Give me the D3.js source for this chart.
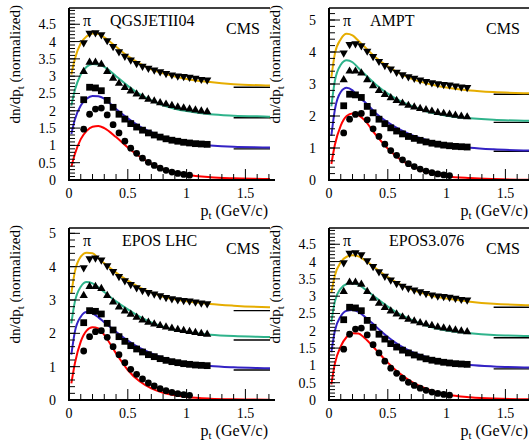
<!DOCTYPE html>
<html><head><meta charset="utf-8">
<script src="https://cdn.jsdelivr.net/npm/d3@7"></script>
<style>body{margin:0;background:#fff}svg{display:block}text{font-family:"Liberation Serif","Times New Roman",serif;fill:#000}</style>
</head><body>
<svg id="c" width="529" height="440" font-family="Liberation Serif, serif"></svg>
<script>
// ---- data ----
const ptBins = [0.125,0.175,0.225,0.275,0.325,0.375,0.425,0.475,0.525,0.575,0.625,0.675,0.725,0.775,0.825,0.875,0.925,0.975,1.025,1.075,1.125,1.175];
const circleVals = [1.47,1.90,2.05,2.08,1.88,1.60,1.36,1.12,0.92,0.77,0.63,0.51,0.42,0.34,0.28,0.23,0.19,0.16,0.14];
const squareVals = [2.32,2.68,2.66,2.58,2.30,2.10,1.90,1.76,1.63,1.53,1.44,1.36,1.30,1.24,1.19,1.15,1.12,1.09,1.07,1.05,1.04,1.03];
const triUpVals = [3.13,3.40,3.40,3.34,3.13,2.94,2.79,2.67,2.57,2.48,2.40,2.33,2.28,2.23,2.19,2.15,2.11,2.08,2.05,2.02,1.99,1.97];
const triDownVals = [3.97,4.24,4.26,4.20,4.03,3.86,3.71,3.58,3.47,3.37,3.29,3.23,3.18,3.13,3.08,3.04,3.01,2.99,2.97,2.94,2.91,2.89];

const curveX = [0.02,0.05,0.1,0.15,0.2,0.25,0.3,0.4,0.5,0.6,0.7,0.8,0.9,1.0,1.2,1.4,1.7,1.8];
// QGSJETII04
const qgsRed    = [0.38,0.75,1.18,1.42,1.54,1.56,1.50,1.24,0.94,0.68,0.47,0.32,0.22,0.15,0.08,0.05,0.03,0.02];
const qgsBlue   = [1.33,1.75,2.15,2.35,2.43,2.42,2.35,2.05,1.78,1.55,1.38,1.24,1.14,1.07,1.00,0.96,0.94,0.93];
const qgsGreen  = [2.15,2.60,3.05,3.27,3.35,3.34,3.27,3.00,2.72,2.48,2.30,2.16,2.06,1.99,1.90,1.86,1.83,1.82];
const qgsYellow = [3.05,3.50,3.95,4.15,4.23,4.22,4.12,3.85,3.58,3.37,3.20,3.08,2.99,2.92,2.83,2.77,2.73,2.72];
// AMPT
const amptRed    = [0.50,1.10,1.70,2.00,2.08,2.03,1.88,1.40,0.98,0.66,0.44,0.29,0.19,0.12,0.06,0.03,0.01,0.01];
const amptBlue   = [1.38,2.20,2.75,2.88,2.80,2.60,2.45,2.08,1.80,1.58,1.41,1.28,1.18,1.10,1.01,0.96,0.92,0.91];
const amptGreen  = [2.30,3.10,3.60,3.74,3.68,3.50,3.32,2.98,2.70,2.48,2.32,2.18,2.08,2.01,1.93,1.88,1.85,1.84];
const amptYellow = [3.20,3.95,4.40,4.57,4.52,4.35,4.17,3.82,3.55,3.33,3.17,3.05,2.96,2.89,2.80,2.75,2.71,2.70];
// EPOS LHC
const eposRed    = [0.50,1.10,1.75,2.08,2.18,2.15,1.95,1.40,0.90,0.56,0.35,0.22,0.14,0.09,0.04,0.02,0.01,0.01];
const eposBlue   = [1.36,2.05,2.50,2.64,2.60,2.48,2.33,2.05,1.78,1.56,1.40,1.27,1.17,1.10,1.02,0.98,0.95,0.94];
const eposGreen  = [2.30,2.95,3.40,3.54,3.50,3.38,3.24,2.96,2.72,2.50,2.33,2.20,2.10,2.03,1.96,1.92,1.89,1.88];
const eposYellow = [3.20,3.85,4.30,4.42,4.40,4.25,4.10,3.82,3.58,3.38,3.23,3.10,3.02,2.96,2.88,2.83,2.78,2.77];
// EPOS3.076
const epos3Red    = [0.45,1.05,1.55,1.82,1.93,1.92,1.80,1.45,1.08,0.77,0.53,0.36,0.24,0.16,0.08,0.04,0.02,0.02];
const epos3Blue   = [1.38,2.00,2.42,2.58,2.60,2.55,2.42,2.12,1.82,1.58,1.40,1.27,1.16,1.09,1.01,0.97,0.94,0.93];
const epos3Green  = [2.25,2.85,3.22,3.35,3.38,3.33,3.22,2.95,2.70,2.48,2.32,2.18,2.08,2.01,1.93,1.88,1.85,1.84];
const epos3Yellow = [3.10,3.60,3.98,4.14,4.18,4.15,4.05,3.80,3.55,3.35,3.20,3.08,2.99,2.93,2.84,2.78,2.74,2.73];

const stubLevels = [0.9, 1.8, 2.68];
const stubRange = [1.4, 1.8];

const modelNames = ["QGSJETII04","AMPT","EPOS LHC","EPOS3.076"];
const yMaxes = [4.97, 5.375, 5.16, 4.97];
const yMajorSteps = [0.5, 1, 1, 0.5];
const yMinorSteps = [0.1, 0.2, 0.2, 0.1];

const colors = {red:"#ff0000", blue:"#3322c4", green:"#2fb38b", yellow:"#e6ad00"};

const panels = [
  {x0:69, y0:180, top:8, clipR:270, name:modelNames[0], nameX:110, curves:[qgsRed,qgsBlue,qgsGreen,qgsYellow]},
  {x0:329, y0:180, top:8, clipR:529, name:modelNames[1], nameX:370, curves:[amptRed,amptBlue,amptGreen,amptYellow]},
  {x0:69, y0:400, top:228, clipR:270, name:modelNames[2], nameX:122, curves:[eposRed,eposBlue,eposGreen,eposYellow]},
  {x0:329, y0:400, top:228, clipR:529, name:modelNames[3], nameX:389, curves:[epos3Red,epos3Blue,epos3Green,epos3Yellow]}
];

const svg = d3.select("#c");
const pxPerX = 117.6;
const xTicksMajor = [0, 0.5, 1, 1.5];
const xTicksMinor = d3.range(0, 18).map(i => i/10).filter(v => Math.abs(v*2 - Math.round(v*2)) > 1e-6);

panels.forEach((p, i) => {
  const x = d3.scaleLinear().domain([0, 1.8]).range([p.x0, p.x0 + 1.8*pxPerX]);
  const y = d3.scaleLinear().domain([0, yMaxes[i]]).range([p.y0, p.top]);
  const g = svg.append("g");
  const clipId = "clip" + i;
  svg.append("clipPath").attr("id", clipId).append("rect")
    .attr("x", p.x0).attr("y", p.top - 2).attr("width", p.clipR - p.x0).attr("height", p.y0 - p.top + 4);
  const plot = g.append("g").attr("clip-path", `url(#${clipId})`);

  plot.append("line").attr("x1", p.x0).attr("x2", p.clipR + 5).attr("y1", p.top).attr("y2", p.top)
    .attr("stroke", "#000").attr("stroke-width", 1.3);

  stubLevels.forEach(v => {
    plot.append("line").attr("x1", x(stubRange[0])).attr("x2", x(stubRange[1]))
      .attr("y1", y(v)).attr("y2", y(v)).attr("stroke", "#000").attr("stroke-width", 1.4);
  });

  const line = d3.line().x((d, k) => x(curveX[k])).y(d => y(d)).curve(d3.curveMonotoneX);
  const cc = [colors.red, colors.blue, colors.green, colors.yellow];
  p.curves.forEach((arr, k) => {
    plot.append("path").attr("d", line(arr)).attr("fill", "none").attr("stroke", cc[k]).attr("stroke-width", 2);
  });

  const sym = (type, size) => d3.symbol().type(type).size(size)();
  const mk = (vals, type, size, rot) => {
    plot.selectAll(null).data(vals).enter().append("path")
      .attr("d", sym(type, size))
      .attr("transform", (d, k) => `translate(${x(ptBins[k])},${y(d)})` + (rot ? " rotate(180)" : ""))
      .attr("fill", "#000");
  };
  mk(circleVals, d3.symbolCircle, 36, false);
  mk(squareVals, d3.symbolSquare, 46, false);
  mk(triUpVals, d3.symbolTriangle, 30, false);
  mk(triDownVals, d3.symbolTriangle, 30, true);

  const ax = g.append("g");
  ax.append("line").attr("x1", p.x0).attr("x2", p.clipR + 5).attr("y1", p.y0).attr("y2", p.y0).attr("stroke", "#000").attr("stroke-width", 2);
  ax.append("line").attr("x1", p.x0).attr("x2", p.x0).attr("y1", p.y0 + 1).attr("y2", p.top).attr("stroke", "#000").attr("stroke-width", 2);
  xTicksMajor.forEach(v => {
    ax.append("line").attr("x1", x(v)).attr("x2", x(v)).attr("y1", p.y0).attr("y2", p.y0 - 11).attr("stroke", "#000").attr("stroke-width", 1);
    ax.append("text").attr("x", x(v)).attr("y", p.y0 + 18).attr("text-anchor", "middle").attr("font-size", 14).text(d3.format("")(v));
  });
  xTicksMinor.forEach(v => {
    if (x(v) < p.clipR) ax.append("line").attr("x1", x(v)).attr("x2", x(v)).attr("y1", p.y0).attr("y2", p.y0 - 6).attr("stroke", "#000").attr("stroke-width", 1);
  });
  const yMaj = d3.range(0, yMaxes[i] + 1e-6, yMajorSteps[i]);
  const yMin = d3.range(0, yMaxes[i] + 1e-6, yMinorSteps[i]);
  yMin.forEach(v => {
    ax.append("line").attr("x1", p.x0).attr("x2", p.x0 + 6).attr("y1", y(v)).attr("y2", y(v)).attr("stroke", "#000").attr("stroke-width", 1);
  });
  yMaj.forEach(v => {
    ax.append("line").attr("x1", p.x0).attr("x2", p.x0 + 11).attr("y1", y(v)).attr("y2", y(v)).attr("stroke", "#000").attr("stroke-width", 1);
    ax.append("text").attr("x", p.x0 - 13).attr("y", y(v) + 5).attr("text-anchor", "end").attr("font-size", 14).text(d3.format("")(+v.toFixed(2)));
  });

  const xt = g.append("text").attr("x", p.x0 + 199).attr("y", p.y0 + 36).attr("text-anchor", "end").attr("font-size", 16);
  xt.append("tspan").text("p");
  xt.append("tspan").attr("font-size", 11).attr("dy", 3).text("t");
  xt.append("tspan").attr("dy", -3).text(" (GeV/c)");

  const yt = g.append("text").attr("transform", `translate(${p.x0 - 49},${p.top - 3}) rotate(-90)`).attr("text-anchor", "end").attr("font-size", 15);
  yt.append("tspan").text("dn/dp");
  yt.append("tspan").attr("font-size", 11).attr("dy", 4).text("t");
  yt.append("tspan").attr("dy", -4).text(" (normalized)");

  g.append("text").attr("x", p.x0 + 14).attr("y", p.top + 18).attr("font-size", 16).text("π");
  g.append("text").attr("x", p.nameX).attr("y", p.top + 18).attr("font-size", 16).text(p.name);
  g.append("text").attr("x", p.x0 + 157).attr("y", p.top + 26).attr("font-size", 16).text("CMS");
});
</script>
</body></html>
